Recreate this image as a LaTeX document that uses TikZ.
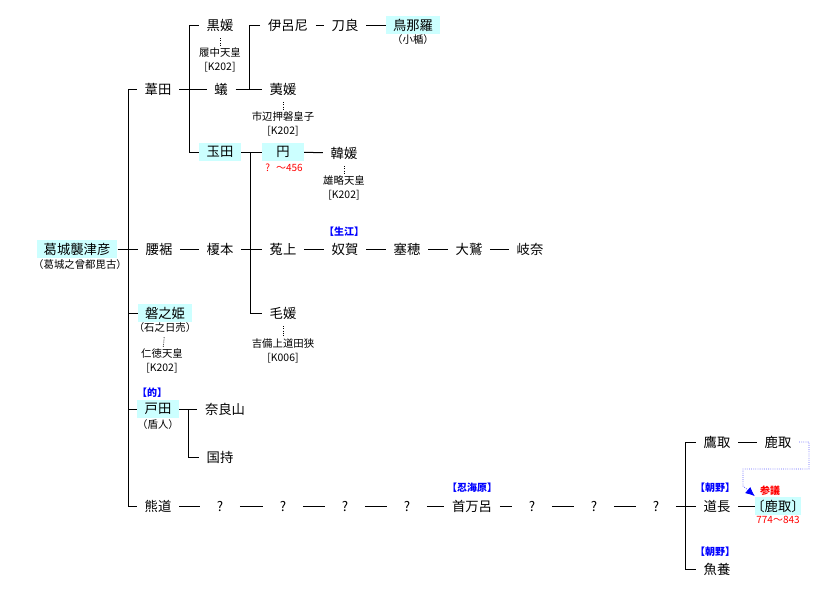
\documentclass[tikz,border=0pt]{standalone}
\usepackage{fontspec}
\setmainfont{Noto Sans CJK JP}
\usetikzlibrary{arrows.meta}
\definecolor{hlcyan}{RGB}{204,255,255}
\definecolor{linkblue}{RGB}{100,100,255}

\begin{document}
\begin{tikzpicture}[x=0.75pt, y=-0.75pt, line width=0.75pt,
    every node/.style={inner sep=0pt},
    nm/.style={font=\fontsize{10}{12}\selectfont, inner xsep=5.5pt, inner ysep=2pt},
    hl/.style={nm, fill=hlcyan, inner xsep=5pt, minimum width=31pt, minimum height=14pt},
    q/.style={nm, inner xsep=0pt, minimum width=29pt},
    note/.style={font=\fontsize{7.8}{10.5}\selectfont, align=center},
    clan/.style={font=\bfseries\fontsize{7.5}{9}\selectfont, text=blue},
    yr/.style={font=\fontsize{7.5}{9}\selectfont, text=red},
    wed/.style={densely dotted, line width=0.6pt, shorten <=3pt, shorten >=1pt},
    link/.style={densely dotted, line width=0.6pt, draw=linkblue, -{Latex[length=7pt,width=6pt,color=blue]}}]
    \useasboundingbox (0,0) rectangle (823,600);
    % Names
    \node[hl] (sotsu) at (77,249) {葛城襲津彦};
    \node[nm] (ashida) at (158,89) {葦田};
    \node[nm] (kuro) at (220,25) {黒媛};
    \node[nm] (ari) at (221,89) {蟻};
    \node[hl] (tama) at (220,152) {玉田};
    \node[nm] (iro) at (288,25) {伊呂尼};
    \node[nm] (tora) at (345,25) {刀良};
    \node[hl] (unara) at (413,25) {鳥那羅};
    \node[nm] (hae) at (283,89) {荑媛};
    \node[hl] (tsubura) at (283,152) {円};
    \node[nm] (kara) at (344,153) {韓媛};
    \node[nm] (koshi) at (159,249) {腰裾};
    \node[nm] (eno) at (220,249) {榎本};
    \node[nm] (unakami) at (283,249) {菟上};
    \node[nm] (nuka) at (345,249) {奴賀};
    \node[nm] (saho) at (407,249) {塞穂};
    \node[nm] (owashi) at (469,249) {大鷲};
    \node[nm] (kina) at (530,249) {岐奈};
    \node[hl] (iwa) at (165,313) {磐之姫};
    \node[nm] (kena) at (283,313) {毛媛};
    \node[hl] (toda) at (158,409) {戸田};
    \node[nm] (nara) at (225,409) {奈良山};
    \node[nm] (kuni) at (220,457) {国持};
    \node[nm] (kuma) at (158,506) {熊道};
    \node[nm] (obito) at (472,506) {首万呂};
    \node[nm] (michi) at (717,506) {道長};
    \node[nm] (taka) at (717,442) {鷹取};
    \node[nm] (kato) at (778,442) {鹿取};
    \node[hl, inner xsep=1pt] (katori) at (778,506) {\kern-4pt〔鹿取〕\kern-4pt};
    \node[nm] (uokai) at (717,569) {魚養};
    \foreach \i/\x in {1/220,2/283,3/345,4/407,5/532,6/594,7/656}
        \node[q] (q\i) at (\x,506) {?};
    % Notes and spouses
    \node[note] (sotsu-a) at (80,265) {（葛城之曾都毘古）};
    \node[note] (unara-a) at (413,40) {（小楯）};
    \node[note] (iwa-a) at (165,328) {（石之日売）};
    \node[note] (toda-a) at (158,425) {（盾人）};
    \node[note] (richu) at (220,60) {履中天皇\\{}[K202]};
    \node[note] (ichibe) at (283,124) {市辺押磐皇子\\{}[K202]};
    \node[note] (yuryaku) at (344,188) {雄略天皇\\{}[K202]};
    \node[note] (nintoku) at (162,361) {仁徳天皇\\{}[K202]};
    \node[note] (kibi) at (283,351) {吉備上道田狭\\{}[K006]};
    \node[yr] (tsubura-y) at (284,168) {?\hspace{0.6em}～456};
    \node[yr] (katori-y) at (778,520) {774～843};
    \node[yr, font=\bfseries\fontsize{7.5}{9}\selectfont] (sangi) at (770,491) {参議};
    \node[clan] (c-ikue) at (344,232) {【生江】};
    \node[clan] (c-mato) at (152,393) {【的】};
    \node[clan] (c-oshi) at (472,488) {【忍海原】};
    \node[clan] (c-asano1) at (715,488) {【朝野】};
    \node[clan] (c-asano2) at (715,552) {【朝野】};
    % Branch points
    \coordinate (busA) at (128,249);
    \coordinate (busB) at (189,89);
    \coordinate (busC) at (249,89);
    \coordinate (busD) at (250,152);
    \coordinate (busE) at (188,409);
    \coordinate (busF) at (685,506);
    \foreach \n in {ashida,iwa,toda,kuma} \draw (\n) -| (busA);
    \foreach \n in {kuro,tama} \draw (\n) -| (busB);
    \foreach \n in {unakami,kena} \draw (\n) -| (busD);
    \foreach \n in {taka,uokai} \draw (\n) -| (busF);
    \draw (iro) -| (busC);
    \draw (kuni) -| (busE);
    % Edges
    \foreach \a/\b in {sotsu/koshi,ashida/ari,ari/hae,iro/tora,tora/unara,tama/tsubura,
        tsubura/kara,koshi/eno,eno/unakami,unakami/nuka,nuka/saho,saho/owashi,owashi/kina,
        toda/nara,kuma/q1,q1/q2,q2/q3,q3/q4,q4/obito,obito/q5,q5/q6,q6/q7,q7/michi,
        taka/kato,michi/katori}
        \draw (\a) -- (\b);
    \foreach \a/\b in {kuro/richu,hae/ichibe,kara/yuryaku,iwa-a/nintoku,kena/kibi}
        \draw[wed] (\a) -- (\b);
    % Adoption
    \coordinate (lk1) at (809,469);
    \coordinate (lk2) at (743,486);
    \draw[link] (kato) -| (lk1) -| (lk2) -- (katori.north west);
\end{tikzpicture}
\end{document}
